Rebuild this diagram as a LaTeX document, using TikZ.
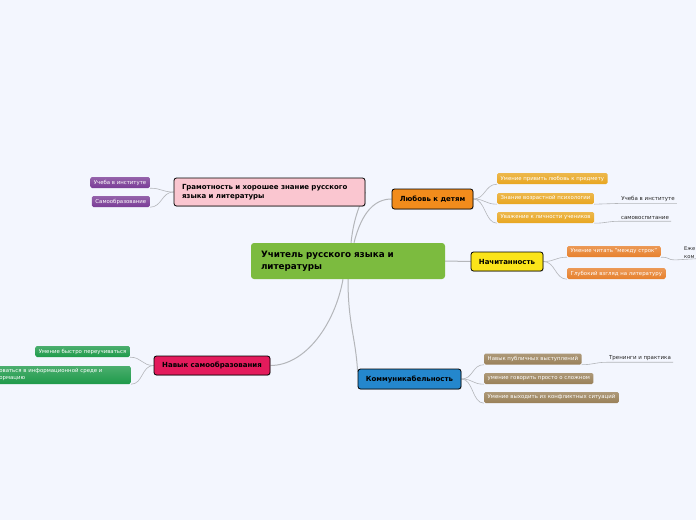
\documentclass[tikz,border=0pt]{standalone}
\usepackage{fontspec}
\setmainfont{DejaVu Sans}
\usetikzlibrary{shadows,backgrounds}
\definecolor{bgblue}{HTML}{F3F6FE}
\definecolor{linegrey}{HTML}{B4B6BA}
\definecolor{rootgreen}{HTML}{7CBB3F}
\definecolor{tpink}{HTML}{FAC6D0}
\definecolor{torange}{HTML}{F28C1C}
\definecolor{tyellow}{HTML}{FBE41A}
\definecolor{tcrimson}{HTML}{E31B5C}
\definecolor{tblue}{HTML}{2487CD}
\definecolor{spurple}{HTML}{7A3C96}
\definecolor{sgold}{HTML}{E8A620}
\definecolor{sorange}{HTML}{E7802C}
\definecolor{sgreen}{HTML}{1E9A4A}
\definecolor{sbrown}{HTML}{998058}

\begin{document}
\begin{tikzpicture}[x=1pt, y=-1pt,
    line/.style={draw=linegrey, line width=1pt},
    twig/.style={draw=linegrey, line width=0.6pt},
    root/.style={fill=rootgreen, rounded corners=3pt, minimum width=194pt, minimum height=36pt,
                 text width=174pt, align=left, font=\bfseries\fontsize{8.8}{11.5}\selectfont},
    topic/.style={draw=black, line width=0.8pt, rounded corners=2.5pt, align=center,
                  font=\bfseries\fontsize{7}{9}\selectfont,
                  drop shadow={shadow xshift=0.6pt, shadow yshift=-0.8pt, opacity=0.35}},
    sub/.style={rounded corners=1.5pt, text=white, top color=#1!80!white, bottom color=#1,
                font=\fontsize{5.4}{7}\selectfont, inner xsep=3.5pt, inner ysep=0pt,
                minimum height=11pt},
    leaf/.style={font=\fontsize{5.5}{7}\selectfont, inner xsep=2pt, inner ysep=1.5pt, text=black!85}]

    \useasboundingbox (0,0) rectangle (696,520);
    \clip (0,0) rectangle (696,520);

    % central topic
    \node[root] (teacher) at (348,261) {Учитель русского языка и\\литературы};

    % --- main topics ------------------------------------------------------
    \node[topic, fill=tpink, minimum width=191pt, minimum height=28pt, text width=175pt, align=left,
          font=\bfseries\fontsize{7}{9.5}\selectfont] (literacy) at (269.5,192)
      {Грамотность и хорошее знание русского\\языка и литературы};
    \node[topic, fill=torange, minimum width=81pt, minimum height=20pt] (love) at (432.5,199) {Любовь к детям};
    \node[topic, fill=tyellow, minimum width=72pt, minimum height=19pt] (reading) at (507,261.5) {Начитанность};
    \node[topic, fill=tcrimson, minimum width=116pt, minimum height=19pt] (selfedu) at (212,365.5) {Навык самообразования};
    \node[topic, fill=tblue, minimum width=103pt, minimum height=20pt] (social) at (409.5,379) {Коммуникабельность};

    % --- subtopics ---------------------------------------------------------
    % literacy
    \node[sub=spurple, anchor=east] (institute) at (150,182.5) {Учеба в институте};
    \node[sub=spurple, anchor=east] (selfstudy) at (150,201.5) {Самообразование};
    % love
    \node[sub=sgold, anchor=west] (instil) at (497,178.5) {Умение привить любовь к предмету};
    \node[sub=sgold, anchor=west] (psych) at (497,198.5) {Знание возрастной психологии};
    \node[sub=sgold, anchor=west] (respect) at (497,217.5) {Уважение к личности учеников};
    % reading
    \node[sub=sorange, anchor=west] (between) at (567,251.5) {Умение читать "между строк"};
    \node[sub=sorange, anchor=west] (deep) at (567,273.5) {Глубокий взгляд на литературу};
    % self-education
    \node[sub=sgreen, anchor=east] (relearn) at (130,351.5) {Умение быстро переучиваться};
    \node[sub=sgreen, anchor=east, minimum height=18pt, text width=128pt, align=left] (infoenv) at (131,375)
      {оваться в информационной среде и\\ормацию};
    % sociability
    \node[sub=sbrown, anchor=west] (speech) at (484,359) {Навык публичных выступлений};
    \node[sub=sbrown, anchor=west] (simple) at (484,378.5) {умение говорить просто о сложном};
    \node[sub=sbrown, anchor=west] (conflict) at (484,397.5) {Умение выходить из конфликтных ситуаций};

    % --- leaves ------------------------------------------------------------
    \node[leaf] (uni) at (648,199) {Учеба в институте};
    \node[leaf] (upbring) at (645,218) {самовоспитание};
    \node[leaf] (train) at (640,358) {Тренинги и практика};
    \node[leaf, anchor=west, align=left, inner xsep=0pt, font=\fontsize{5.2}{7.5}\selectfont] (daily) at (684,252.5) {Еже\\ком};
    \coordinate (dailyend) at (700,258.5);

    % --- connectors --------------------------------------------------------
    \begin{scope}[on background layer]
    \fill[bgblue] (0,0) rectangle (696,520);
    \draw[line] ([xshift=3pt]teacher.north) .. controls +(3,-28) and +(-4,10) .. (literacy.east);
    \draw[line] ([xshift=6pt]teacher.north) .. controls +(8,-32) and +(-16,0) .. (love.west);
    \draw[line] (teacher.east) -- (reading.west);
    \draw[line] ([xshift=-5pt]teacher.south) .. controls +(-8,45) and +(35,0) .. (selfedu.east);
    \draw[line] (teacher.south) .. controls +(0,45) and +(-2,-35) .. ([yshift=-3pt]social.north west);

    \foreach \s in {institute,selfstudy}
      \draw[twig] (literacy.west) .. controls +(-12,0) and +(12,0) .. (\s.south east);
    \foreach \s in {instil,psych,respect}
      \draw[twig] (love.east) .. controls +(12,0) and +(-12,0) .. (\s.south west);
    \foreach \s in {between,deep}
      \draw[twig] (reading.east) .. controls +(12,0) and +(-12,0) .. (\s.south west);
    \foreach \s in {relearn,infoenv}
      \draw[twig] (selfedu.west) .. controls +(-12,0) and +(12,0) .. (\s.south east);
    \foreach \s in {speech,simple,conflict}
      \draw[twig] (social.east) .. controls +(12,0) and +(-12,0) .. (\s.south west);

    \draw[twig] (psych.south east) .. controls +(12,0) and +(-12,0) .. (uni.south west) -- (uni.south east);
    \draw[twig] (respect.south east) .. controls +(12,0) and +(-12,0) .. (upbring.south west) -- (upbring.south east);
    \draw[twig] (speech.south east) .. controls +(12,0) and +(-12,0) .. (train.south west) -- (train.south east);
    \draw[twig] (between.south east) .. controls +(10,0) and +(-10,0) .. ([xshift=-8pt]daily.south west) -- (dailyend);
    \end{scope}
\end{tikzpicture}
\end{document}
